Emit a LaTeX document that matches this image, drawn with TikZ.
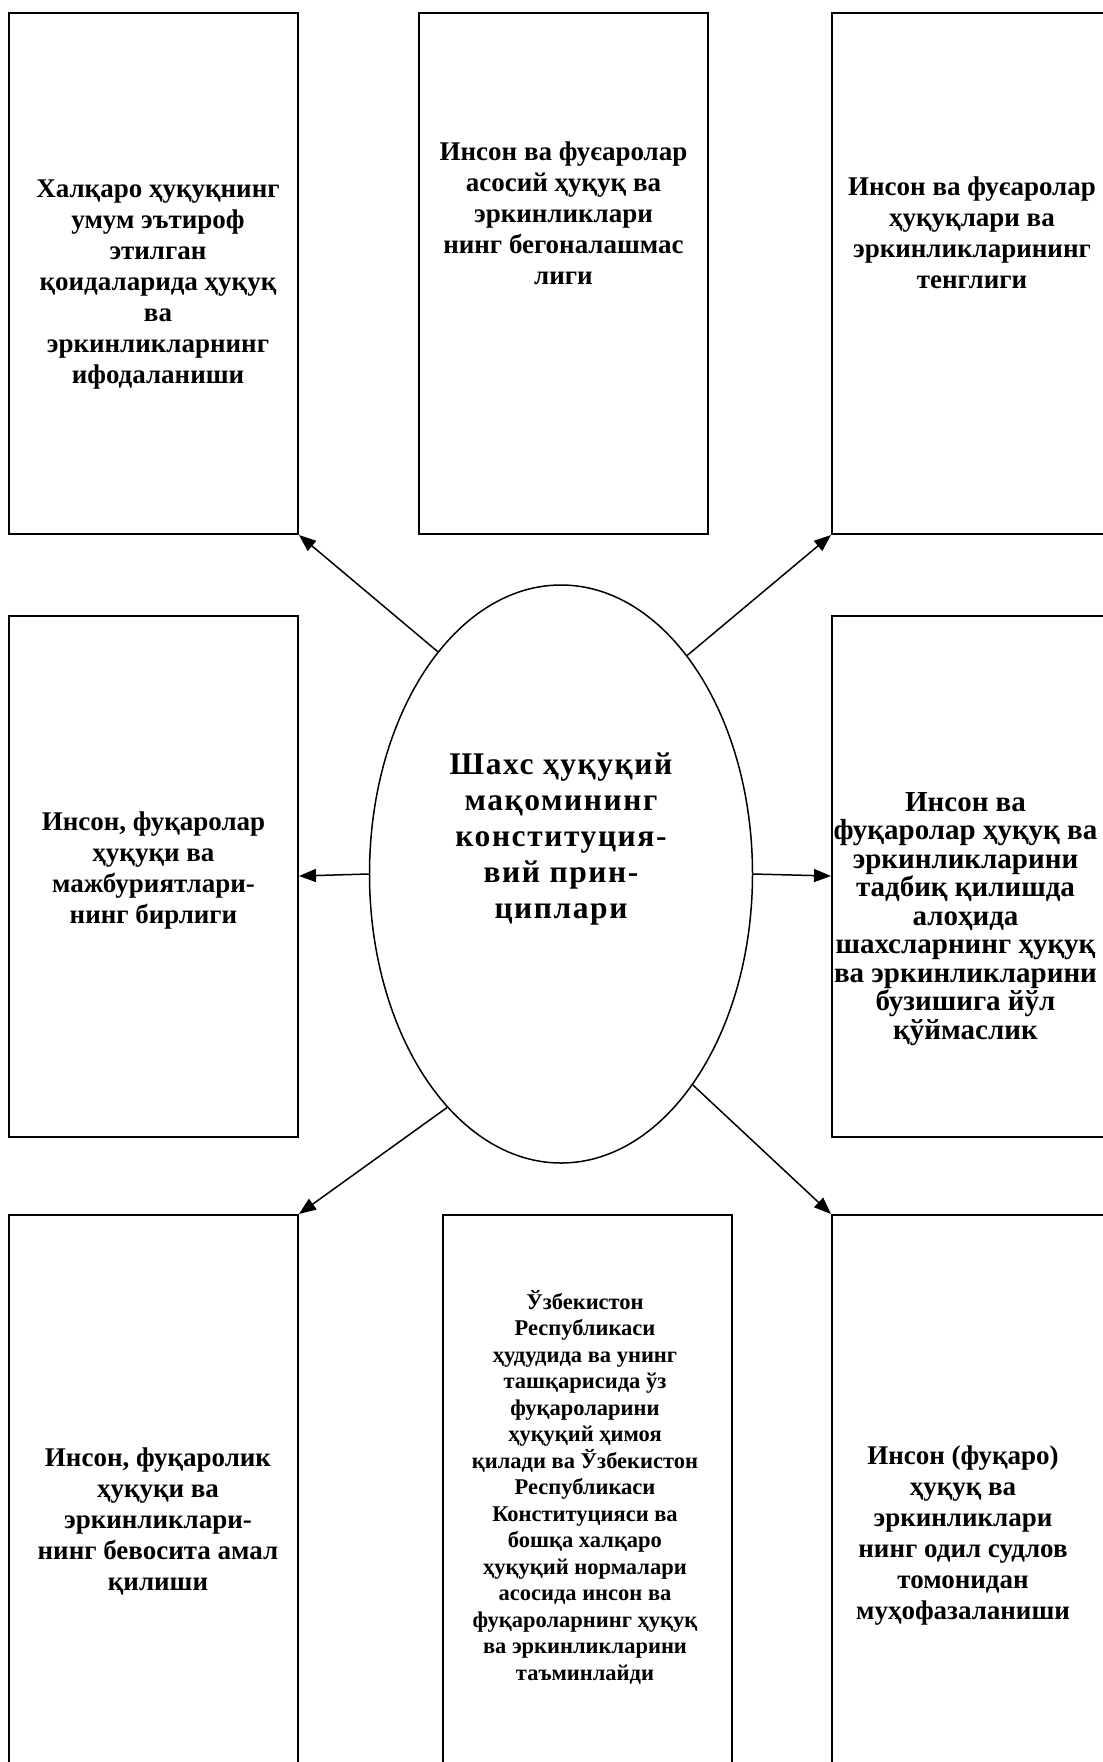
\documentclass[tikz,border=0pt]{standalone}
\usepackage{fontspec}
\setmainfont{Liberation Serif}
\usetikzlibrary{shapes.geometric}
\usetikzlibrary{arrows.meta}
\usetikzlibrary{positioning}

\begin{document}
\begin{tikzpicture}[x=1pt,y=1pt,
		box/.style={draw,rectangle,line width=2pt,minimum width=289pt,minimum height=521pt,inner sep=0pt},
		tallbox/.style={box,minimum height=570pt},
		txt/.style={align=center,font=\bfseries\fontsize{27}{31}\selectfont},
		widetxt/.style={align=center,font=\bfseries\fontsize{29}{28.5}\selectfont},
		smalltxt/.style={align=center,font=\bfseries\fontsize{22.5}{26.5}\selectfont},
		hubtxt/.style={align=center,font=\bfseries\fontsize{31.5}{36}\selectfont\addfontfeature{LetterSpace=5}},
		arr/.style={-{Triangle[length=17pt,width=13pt]},line width=1.5pt}]
		\useasboundingbox (0,0) rectangle (1103,-1762);
		% top row
		\node (tl) [box,
		label={[txt,xshift=4.5pt,yshift=-11.5pt]center:{Халқаро ҳуқуқнинг\\умум эътироф\\этилган\\қоидаларида ҳуқуқ\\ва\\эркинликларнинг\\ифодаланиши}}
		] at (153.5,-273.5) {};
		\node (tm) [box,right=119pt of tl,
		label={[txt,yshift=60.5pt]center:{Инсон ва фуєаролар\\асосий ҳуқуқ ва\\эркинликлари\\нинг бегоналашмас\\лиги}}
		] {};
		\node (tr) [box,right=122pt of tm,
		label={[txt,xshift=-4.5pt,yshift=40.5pt]center:{Инсон ва фуєаролар\\ҳуқуқлари ва\\эркинликларининг\\тенглиги}}
		] {};
		% middle row
		\node (hub) [draw,ellipse,line width=1.5pt,minimum width=383pt,minimum height=578pt,inner sep=0pt,
		label={[hubtxt,yshift=35pt]center:{Шахс ҳуқуқий\\мақомининг\\конституция-\\вий прин-\\циплари}}
		] at (561,-874) {};
		\node (ml) [box,below=79.5pt of tl,
		label={[txt,yshift=6pt]center:{Инсон, фуқаролар\\ҳуқуқи ва\\мажбуриятлари-\\нинг бирлиги}}
		] {};
		\node (mr) [box,below=79.5pt of tr,
		label={[widetxt,xshift=-11pt,yshift=-43pt]center:{Инсон ва\\фуқаролар ҳуқуқ ва\\эркинликларини\\тадбиқ қилишда\\алоҳида\\шахсларнинг ҳуқуқ\\ва эркинликларини\\бузишига йўл\\қўймаслик}}
		] {};
		% bottom row
		\node (bl) [tallbox,below=76.5pt of ml,
		label={[txt,xshift=4.5pt,yshift=-21pt]center:{Инсон, фуқаролик\\ҳуқуқи ва\\эркинликлари-\\нинг бевосита амал\\қилиши}}
		] {};
		\node (bm) [tallbox,right=143pt of bl,
		label={[smalltxt,xshift=-2.5pt,yshift=13pt]center:{Ўзбекистон\\Республикаси\\ҳудудида ва унинг\\ташқарисида ўз\\фуқароларини\\ҳуқуқий ҳимоя\\қилади ва Ўзбекистон\\Республикаси\\Конституцияси ва\\бошқа халқаро\\ҳуқуқий нормалари\\асосида инсон ва\\фуқароларнинг ҳуқуқ\\ва эркинликларини\\таъминлайди}}
		] {};
		\node (br) [tallbox,below=76.5pt of mr,
		label={[txt,xshift=-13.5pt,yshift=-36pt]center:{Инсон (фуқаро)\\ҳуқуқ ва\\эркинликлари\\нинг одил судлов\\томонидан\\муҳофазаланиши}}
		] {};
		% arrows
		\draw [arr] (hub.119) -- (tl.south east);
		\draw [arr] (hub.60) -- (tr.south west);
		\draw [arr] (hub.west) -- (ml.east);
		\draw [arr] (hub.east) -- (mr.west);
		\draw [arr] (hub.244) -- (bl.north east);
		\draw [arr] (hub.302) -- (br.north west);
	\end{tikzpicture}
\end{document}
